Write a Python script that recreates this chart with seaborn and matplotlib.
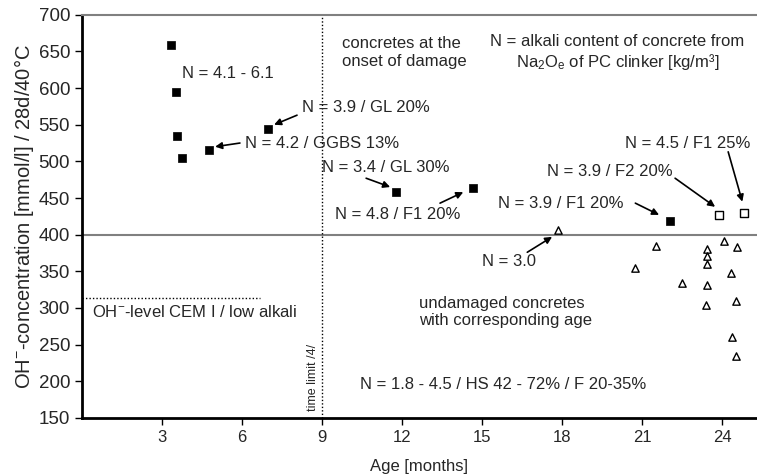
import matplotlib
matplotlib.use("Agg")
import matplotlib.pyplot as plt
import seaborn as sns
import pandas as pd

# ---- data ----
damaged_age = [3.34, 3.51, 3.57, 3.74, 4.75, 6.99, 11.78, 14.67, 22.05]
damaged_oh = [659, 594, 535, 505, 516, 544, 458, 463, 419]

damaged_fa_age = [23.88, 24.80]
damaged_fa_oh = [427, 429]

undamaged_age = [17.86, 21.50, 20.71, 22.49, 23.42, 23.42, 23.42, 23.42, 23.37,
                 24.07, 24.55, 24.31, 24.52, 24.35, 24.51]
undamaged_oh = [407, 385, 354, 334, 381, 371, 360, 331, 304,
                391, 383, 348, 309, 260, 235]

x_ticks = [3, 6, 9, 12, 15, 18, 21, 24]
y_ticks = [150, 200, 250, 300, 350, 400, 450, 500, 550, 600, 650, 700]

df_dam = pd.DataFrame({"age": damaged_age, "oh": damaged_oh})
df_fa = pd.DataFrame({"age": damaged_fa_age, "oh": damaged_fa_oh})
df_und = pd.DataFrame({"age": undamaged_age, "oh": undamaged_oh})

sns.set_style("ticks")
plt.rcParams["font.family"] = ["Liberation Sans", "DejaVu Sans"]
plt.rcParams["mathtext.fontset"] = "custom"
plt.rcParams["mathtext.rm"] = "Liberation Sans"
plt.rcParams["mathtext.it"] = "Liberation Sans"
plt.rcParams["mathtext.default"] = "regular"

FS = 12
fig = plt.figure(figsize=(7.57, 4.76), dpi=100)
ax = fig.add_axes([0.1083, 0.122, 0.8917, 0.847])

# reference lines
ax.axhline(400, color="#808080", lw=1.5, zorder=1)
ax.axvline(9, color="black", lw=1, ls=(0, (1, 1.5)), zorder=1)
ax.plot([0, 6.67], [314, 314], color="black", lw=1, ls=(0, (1, 1.5)), zorder=1)

sns.scatterplot(data=df_dam, x="age", y="oh", ax=ax, marker="s", s=36,
                color="black", edgecolor="black", linewidth=0.5, zorder=3)
sns.scatterplot(data=df_fa, x="age", y="oh", ax=ax, marker="s", s=36,
                facecolor="white", edgecolor="black", linewidth=1, zorder=3)
sns.scatterplot(data=df_und, x="age", y="oh", ax=ax, marker="^", s=28,
                facecolor="white", edgecolor="black", linewidth=1, zorder=3)

ax.set_xlim(0, 25.3)
ax.set_ylim(150, 700)
ax.set_xticks(x_ticks)
ax.set_yticks(y_ticks)
ax.tick_params(axis="both", direction="out", length=5, width=1, color="black")
ax.tick_params(axis="x", labelsize=12)
ax.tick_params(axis="y", labelsize=13.5)
ax.set_xlabel("Age [months]", fontsize=12, labelpad=10)
ax.set_ylabel("OH$^{-}$-concentration [mmol/l] / 28d/40°C", fontsize=14.5, labelpad=2)

for s in ["left", "bottom"]:
    ax.spines[s].set_color("black")
    ax.spines[s].set_linewidth(2)
ax.spines["top"].set_color("#808080")
ax.spines["top"].set_linewidth(1.5)
ax.spines["right"].set_visible(False)

def txt(x, y, s, ha="left", **kw):
    ax.text(x, y, s, ha=ha, va="center", fontsize=kw.pop("fontsize", FS), **kw)

def arrow(x0, y0, x1, y1):
    ax.annotate("", xy=(x1, y1), xytext=(x0, y0),
                arrowprops=dict(arrowstyle="-|>", color="black", lw=1.2,
                                mutation_scale=10, shrinkA=0, shrinkB=0))

txt(3.75, 620, "N = 4.1 - 6.1")
txt(8.25, 573, "N = 3.9 / GL 20%")
arrow(8.06, 563, 7.2, 550)
txt(6.11, 525, "N = 4.2 / GGBS 13%")
arrow(5.92, 525, 4.99, 520)
txt(9.75, 648.5, "concretes at the\nonset of damage", linespacing=1.2)
txt(20.06, 648.5, "N = alkali content of concrete from\nNa$_2$O$_e$ of PC clinker [kg/m³]",
    ha="center", linespacing=1.2)
txt(9.0, 491, "N = 3.4 / GL 30%")
arrow(10.65, 477, 11.55, 465)
txt(9.49, 427, "N = 4.8 / F1 20%")
arrow(13.42, 443, 14.29, 458)
txt(15.6, 443, "N = 3.9 / F1 20%")
arrow(20.74, 443, 21.63, 427)
txt(17.44, 485.5, "N = 3.9 / F2 20%")
arrow(22.23, 477, 23.73, 438)
txt(20.36, 525, "N = 4.5 / F1 25%")
arrow(24.22, 513, 24.75, 445)
txt(15.0, 363, "N = 3.0")
arrow(16.69, 376, 17.62, 397)
txt(12.64, 294.6, "undamaged concretes\nwith corresponding age", linespacing=1.2)
txt(10.42, 195, "N = 1.8 - 4.5 / HS 42 - 72% / F 20-35%")
txt(0.375, 294.6, "OH$^{-}$-level CEM I / low alkali")
ax.text(8.66, 205, "time limit /4/", rotation=90, ha="center", va="center", fontsize=9)

fig.savefig("out.png", dpi=100)
